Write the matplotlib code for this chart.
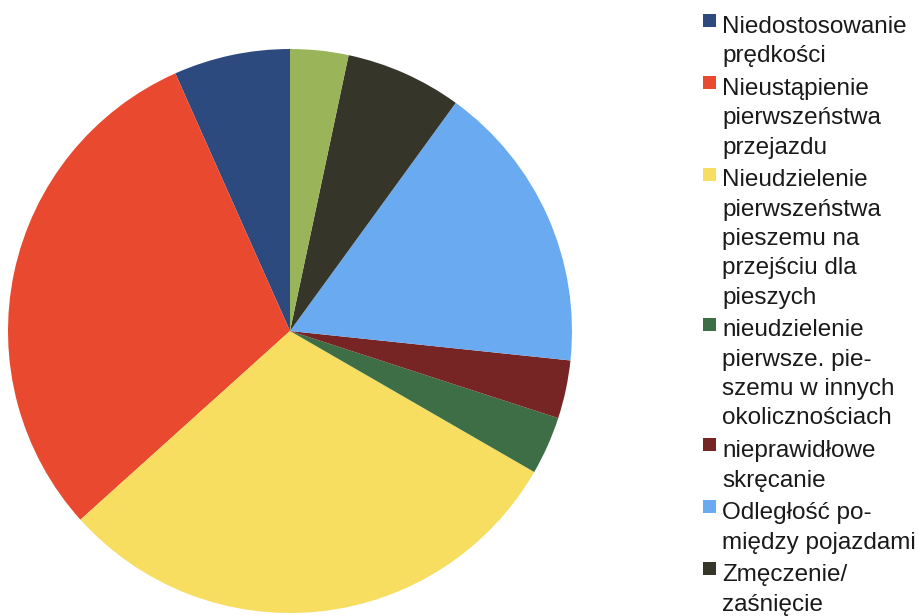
import matplotlib
matplotlib.use("Agg")
import matplotlib.pyplot as plt
from matplotlib.patches import Rectangle

# data (counts, total 30)
labels = [
    "Niedostosowanie\nprędkości",
    "Nieustąpienie\npierwszeństwa\nprzejazdu",
    "Nieudzielenie\npierwszeństwa\npieszemu na\nprzejściu dla\npieszych",
    "nieudzielenie\npierwsze. pie-\nszemu w innych\nokolicznościach",
    "nieprawidłowe\nskręcanie",
    "Odległość po-\nmiędzy pojazdami",
    "Zmęczenie/\nzaśnięcie",
    "",  # 8th entry cut off below the picture
]
values = [2, 9, 9, 1, 1, 5, 2, 1]
colors = ["#2d4a7f", "#e9492f", "#f7dd60", "#3e6e45",
          "#772524", "#6aaaf0", "#35352a", "#9ab45a"]

W, H = 918, 616
fig = plt.figure(figsize=(W / 100, H / 100), dpi=100)

# pie axes, center ~ (290, 331) px, radius ~282 px
cx, cy, r = 290, 331, 282
ax = fig.add_axes([(cx - r) / W, (H - cy - r) / H, 2 * r / W, 2 * r / H])
ax.pie(values, colors=colors, startangle=90, counterclock=True,
       radius=1, wedgeprops=dict(linewidth=0))
ax.set_xlim(-1, 1)
ax.set_ylim(-1, 1)
ax.set_aspect("auto")
ax.axis("off")

# legend drawn by hand so the square sits on the first line
pitch = 29.3
gap = 3.5
base = 33
for lab, col in zip(labels[:7], colors[:7]):
    lines = lab.split("\n")
    fig.patches.append(Rectangle(((703) / W, 1 - (base - 6) / H), 13 / W, 13 / H,
                                 transform=fig.transFigure, facecolor=col,
                                 edgecolor="none"))
    for i, ln in enumerate(lines):
        fig.text(722 / W, 1 - (base + i * pitch) / H, ln,
                 fontsize=17.5, family="Liberation Sans", color="#1a1a1a",
                 va="baseline", ha="left")
    base += len(lines) * pitch + gap

fig.savefig("out.png", dpi=100, facecolor="white")
